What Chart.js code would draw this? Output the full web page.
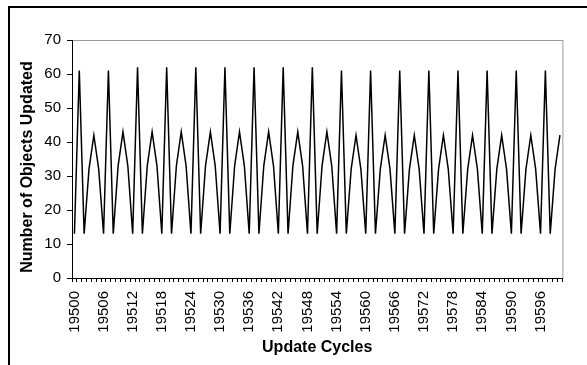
<!DOCTYPE html>
<html>
<head>
<meta charset="utf-8">
<script src="https://cdn.jsdelivr.net/npm/chart.js@4.4.1/dist/chart.umd.min.js"></script>
<style>
  html, body { margin: 0; padding: 0; background: #fff; overflow: hidden; }
  #wrap { position: relative; width: 587px; height: 365px; }
  #frame { position: absolute; left: 8px; top: 6px; width: 700px; height: 500px;
           border-top: 2px solid #000; border-left: 2px solid #000; }
  canvas { position: absolute; left: 0; top: 0; }
</style>
</head>
<body>
<div id="wrap">
  <div id="frame"></div>
  <canvas id="chart" width="587" height="365"></canvas>
</div>
<script>
'use strict';
// update cycle numbers (x categories)
const cycles = [
  19500, 19501, 19502, 19503, 19504, 19505, 19506, 19507, 19508, 19509,
  19510, 19511, 19512, 19513, 19514, 19515, 19516, 19517, 19518, 19519,
  19520, 19521, 19522, 19523, 19524, 19525, 19526, 19527, 19528, 19529,
  19530, 19531, 19532, 19533, 19534, 19535, 19536, 19537, 19538, 19539,
  19540, 19541, 19542, 19543, 19544, 19545, 19546, 19547, 19548, 19549,
  19550, 19551, 19552, 19553, 19554, 19555, 19556, 19557, 19558, 19559,
  19560, 19561, 19562, 19563, 19564, 19565, 19566, 19567, 19568, 19569,
  19570, 19571, 19572, 19573, 19574, 19575, 19576, 19577, 19578, 19579,
  19580, 19581, 19582, 19583, 19584, 19585, 19586, 19587, 19588, 19589,
  19590, 19591, 19592, 19593, 19594, 19595, 19596, 19597, 19598, 19599,
  19600
];
// number of objects updated per cycle
const objectsUpdated = [
  13, 61, 13, 32, 42, 32,
  13, 61, 13, 33, 43, 33,
  13, 62, 13, 33, 43, 33,
  13, 62, 13, 33, 43, 33,
  13, 62, 13, 33, 43, 33,
  13, 62, 13, 33, 43, 33,
  13, 62, 13, 33, 43, 33,
  13, 62, 13, 33, 43, 33,
  13, 62, 13, 33, 43, 33,
  13, 61, 13, 32, 42, 32,
  13, 61, 13, 32, 42, 32,
  13, 61, 13, 32, 42, 32,
  13, 61, 13, 32, 42, 32,
  13, 61, 13, 32, 42, 32,
  13, 61, 13, 32, 42, 32,
  13, 61, 13, 32, 42, 32,
  13, 61, 13, 32, 42
];
const labelEvery = 6;
const xTitle = 'Update Cycles';
const yTitle = 'Number of Objects Updated';

const FONT = "'Liberation Sans', Arial, sans-serif";

// gray plot-area box, and the two axis titles
const plotBox = {
  id: 'plotBox',
  beforeDraw(chart) {
    const a = chart.chartArea;
    const ctx = chart.ctx;
    ctx.save();
    ctx.strokeStyle = '#9a9a9a';
    ctx.lineWidth = 1;
    ctx.strokeRect(a.left + 0.5, a.top + 0.5, a.right - a.left, a.bottom - a.top);
    ctx.restore();
  },
  afterDraw(chart) {
    const a = chart.chartArea;
    const ctx = chart.ctx;
    ctx.save();
    ctx.fillStyle = '#000';
    ctx.font = 'bold 16px ' + FONT;
    ctx.textAlign = 'center';
    ctx.textBaseline = 'alphabetic';
    ctx.fillText(xTitle, (a.left + a.right) / 2, 351.5);
    ctx.translate(32, 167);
    ctx.rotate(-Math.PI / 2);
    ctx.fillText(yTitle, 0, 0);
    ctx.restore();
  }
};

new Chart(document.getElementById('chart'), {
  type: 'line',
  data: {
    labels: cycles,
    datasets: [{
      data: objectsUpdated,
      borderColor: '#000',
      borderWidth: 1.5,
      pointRadius: 0,
      tension: 0,
      fill: false
    }]
  },
  options: {
    responsive: false,
    animation: false,
    layout: { padding: { left: 0, top: 40, right: 12, bottom: 0 } },
    plugins: { legend: { display: false }, tooltip: { enabled: false } },
    scales: {
      x: {
        type: 'category',
        offset: true,
        grid: { offset: true, drawOnChartArea: false, drawTicks: true, tickLength: 4, color: '#000' },
        border: { color: '#000', width: 1 },
        ticks: {
          autoSkip: false,
          minRotation: 90,
          maxRotation: 90,
          padding: 9,
          color: '#000',
          font: { family: FONT, size: 15 },
          callback: function (v, i) { return i % labelEvery === 0 ? String(cycles[i]) : ''; }
        },
        afterFit: function (s) { s.height = 87; }
      },
      y: {
        min: 0,
        max: 70,
        grid: { drawOnChartArea: false, drawTicks: true, tickLength: 5, color: '#000' },
        border: { color: '#000', width: 1 },
        ticks: {
          stepSize: 10,
          padding: 6,
          color: '#000',
          font: { family: FONT, size: 15 }
        },
        afterFit: function (s) { s.width = 72; }
      }
    }
  },
  plugins: [plotBox]
});
</script>
</body>
</html>
